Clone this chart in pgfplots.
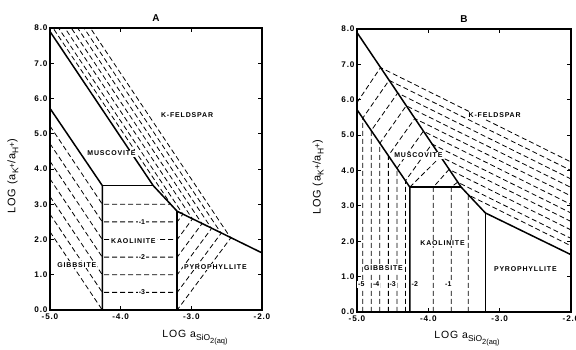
\documentclass[border=0pt]{standalone}
\usepackage{pgfplots}
\pgfplotsset{compat=1.18}
\usepackage{fontspec}
\setmainfont{Liberation Sans}
\newfontfamily\lbl[LetterSpace=12]{Liberation Sans}
\newfontfamily\axl[LetterSpace=8]{Liberation Sans}
\newfontfamily\tkf[LetterSpace=10]{Liberation Sans}
\pgfplotsset{
  panel/.style={
    scale only axis, xmin=-5, xmax=-2, ymin=0, ymax=8,
    xtick={-5,-4,-3,-2}, xticklabels={-5.0,-4.0,-3.0,-2.0},
    ytick={0,1,2,3,4,5,6,7,8},
    yticklabels={0.0,1.0,2.0,3.0,4.0,5.0,6.0,7.0,8.0},
    tick label style={font=\tkf\bfseries\fontsize{8.2}{9}\selectfont},
    yticklabel style={xshift=1bp},
    xticklabel style={yshift=-0.5bp},
    axis line style={line width=1.4bp},
    every tick/.style={black, line width=0.9bp},
    major tick length=4bp,
    title style={font=\bfseries\fontsize{10}{11}\selectfont, at={(0.5,1)}, anchor=south, yshift=-3bp},
    ylabel={{\axl\fontsize{11}{12}\selectfont LOG (a\raisebox{-3bp}{\fontsize{8.5}{8.5}\selectfont K\raisebox{3.5bp}{+}}/a\raisebox{-3bp}{\fontsize{8.5}{8.5}\selectfont H\raisebox{3.5bp}{+}})}},
    xlabel={{\axl\fontsize{10.5}{12}\selectfont LOG\hspace{4bp}a}\raisebox{-3.5bp}{\fontsize{8.5}{8.5}\selectfont SiO\raisebox{-2.5bp}{\fontsize{7.5}{7.5}\selectfont 2(aq)}}},
  },
  cont/.style={black, line width=0.8bp, dash pattern=on 5bp off 3bp, forget plot},
  bnd/.style={black, line width=1.5bp, forget plot},
}
\tikzset{
  lab/.style={font=\lbl\bfseries\fontsize{7}{8}\selectfont, inner sep=1bp, fill=white},
  num/.style={font=\bfseries\fontsize{7}{8}\selectfont, inner sep=0.8bp, fill=white},
}
\begin{document}
\begin{tikzpicture}
% ---------------- Panel A ----------------
\begin{axis}[panel, at={(50bp,40bp)}, width=212bp, height=282bp, title={A},
  ylabel style={at={(axis description cs:-0.175,0.475)}, anchor=center},
  xlabel style={at={(axis description cs:0.684,-0.096)}, anchor=base}]
% contours: gibbsite -> kaolinite -> pyrophyllite -> K-feldspar
\addplot[cont] coordinates {(-5,5.22) (-4.26,3.0) (-3.29,3.0) (-4.957,8)};
\addplot[cont] coordinates {(-5,4.72) (-4.26,2.5) (-3.2,2.5) (-3.119,2.719) (-4.879,8)};
\addplot[cont] coordinates {(-5,4.22) (-4.26,2.0) (-3.2,2.0) (-2.984,2.584) (-4.789,8)};
\addplot[cont] coordinates {(-5,3.72) (-4.26,1.5) (-3.2,1.5) (-2.849,2.449) (-4.699,8)};
\addplot[cont] coordinates {(-5,3.22) (-4.26,1.0) (-3.2,1.0) (-2.714,2.314) (-4.609,8)};
\addplot[cont] coordinates {(-5,2.72) (-4.26,0.5) (-3.2,0.5) (-2.578,2.178) (-4.519,8)};
\addplot[cont] coordinates {(-5,2.22) (-4.26,0.0) (-3.2,0.0) (-2.443,2.043) (-4.429,8)};
% phase boundaries
\addplot[bnd] coordinates {(-5,7.9) (-3.54,3.53) (-3.2,2.8) (-2,1.62)};
\addplot[bnd] coordinates {(-5,5.72) (-4.26,3.53) (-4.26,0)};
\addplot[bnd] coordinates {(-4.26,3.53) (-3.54,3.53)};
\addplot[bnd] coordinates {(-3.2,0) (-3.2,2.8)};
% labels
\node[lab] at (axis cs:-3.06,5.53) {K-FELDSPAR};
\node[lab] at (axis cs:-4.13,4.45) {MUSCOVITE};
\node[lab] at (axis cs:-3.82,1.95) {KAOLINITE};
\node[lab] at (axis cs:-4.62,1.28) {GIBBSITE};
\node[lab] at (axis cs:-2.66,1.22) {PYROPHYLLITE};
\node[num] at (axis cs:-3.70,2.5) {-1};
\node[num] at (axis cs:-3.70,1.5) {-2};
\node[num] at (axis cs:-3.70,0.5) {-3};
\end{axis}
% ---------------- Panel B ----------------
\begin{axis}[panel, at={(357bp,38bp)}, width=214bp, height=283bp, title={B},
  ylabel style={at={(axis description cs:-0.182,0.475)}, anchor=center},
  xlabel style={at={(axis description cs:0.514,-0.092)}, anchor=base}]
% contours: gibbsite/kaolinite vertical -> muscovite -> K-feldspar
\addplot[cont] coordinates {(-5,5.92) (-4.67,6.91) (-2,4.24)};
\addplot[cont] coordinates {(-4.92,0) (-4.92,5.48) (-4.55,6.55) (-2,4.00)};
\addplot[cont] coordinates {(-4.80,0) (-4.80,5.13) (-4.43,6.19) (-2,3.76)};
\addplot[cont] coordinates {(-4.68,0) (-4.68,4.77) (-4.31,5.83) (-2,3.52)};
\addplot[cont] coordinates {(-4.56,0) (-4.56,4.42) (-4.19,5.47) (-2,3.28)};
\addplot[cont] coordinates {(-4.44,0) (-4.44,4.06) (-4.07,5.11) (-2,3.04)};
\addplot[cont] coordinates {(-4.32,0) (-4.32,3.71) (-3.95,4.75) (-2,2.80)};
\addplot[cont] coordinates {(-4.26,3.53) (-3.83,4.39) (-2,2.56)};
\addplot[cont] coordinates {(-3.93,0) (-3.93,3.53) (-3.71,4.03) (-2,2.32)};
\addplot[cont] coordinates {(-3.68,0) (-3.68,3.53) (-3.59,3.67) (-2,2.08)};
\addplot[cont] coordinates {(-3.44,0) (-3.44,3.31) (-2,1.87)};
% phase boundaries
\addplot[bnd] coordinates {(-5,7.9) (-3.54,3.53) (-3.2,2.8) (-2,1.62)};
\addplot[bnd] coordinates {(-5,5.72) (-4.26,3.53) (-4.26,0)};
\addplot[bnd] coordinates {(-4.26,3.53) (-3.54,3.53)};
\addplot[bnd] coordinates {(-3.2,0) (-3.2,2.8)};
% labels
\node[lab] at (axis cs:-3.07,5.56) {K-FELDSPAR};
\node[lab] at (axis cs:-4.14,4.43) {MUSCOVITE};
\node[lab] at (axis cs:-3.80,1.95) {KAOLINITE};
\node[lab] at (axis cs:-4.63,1.24) {GIBBSITE};
\node[lab] at (axis cs:-2.64,1.21) {PYROPHYLLITE};
\node[num] at (axis cs:-4.94,0.78) {-5};
\node[num] at (axis cs:-4.73,0.78) {-4};
\node[num] at (axis cs:-4.50,0.78) {-3};
\node[num] at (axis cs:-4.19,0.78) {-2};
\node[num] at (axis cs:-3.72,0.78) {-1};
\end{axis}
\pgfresetboundingbox
\path[use as bounding box] (0,0) rectangle (576bp,350bp);
\end{tikzpicture}
\end{document}
